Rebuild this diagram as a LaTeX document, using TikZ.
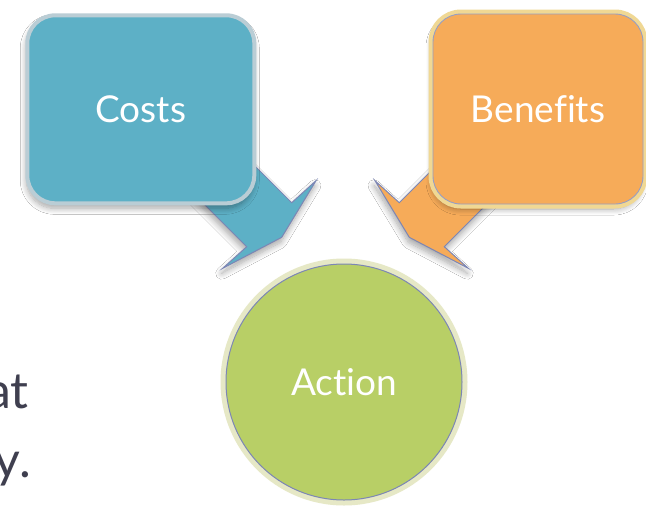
\documentclass[tikz,border=0pt]{standalone}
\usepackage{fontspec}
\setmainfont[Ligatures={NoCommon}]{Lato}
\usetikzlibrary{shadows.blur}
\definecolor{cblue}{HTML}{5DB0C6}
\definecolor{cblueborder}{HTML}{BACDD5}
\definecolor{corange}{HTML}{F6AB59}
\definecolor{corangeglow}{HTML}{F0D894}
\definecolor{cgreen}{HTML}{B8CF66}
\definecolor{cgreenglow}{HTML}{E6E8C6}
\definecolor{coutline}{HTML}{7C86B5}
\definecolor{ctext}{HTML}{3F3F4F}
\begin{document}
\begin{tikzpicture}[x=1pt,y=-1pt,
  softshadow/.style={blur shadow={shadow xshift=-1pt, shadow yshift=-5pt, shadow blur steps=10, shadow blur radius=6pt, shadow opacity=35}},
  blockarrow/.style={draw=coutline, line width=1pt, line join=miter, softshadow},
  labeltext/.style={text=white, font=\fontsize{37}{40}\selectfont},
  costbox/.style={rounded corners=28pt, fill=cblue, draw=cblueborder, line width=4pt, softshadow, labeltext},
  benefitbox/.style={rounded corners=28pt, fill=corange, draw=coutline!80, line width=0.9pt, softshadow,
     preaction={draw=corangeglow, line width=9pt}, labeltext},
  actioncircle/.style={circle, fill=cgreen, draw=coutline, line width=1pt,
     preaction={draw=cgreenglow, line width=11pt}, labeltext},
  sidetext/.style={text=ctext, font=\fontsize{50}{54}\selectfont, anchor=base east, inner sep=0pt}
]
\useasboundingbox (0,0) rectangle (646,515);
\fill[white] (0,0) rectangle (646,515);
\clip (0,0) rectangle (646,515);

% blue arrow
\coordinate (ba1) at (230,141);
\coordinate (ba2) at (291.7,202.7);
\coordinate (ba3) at (316,180.7);
\coordinate (ba4) at (281.7,237.3);
\coordinate (ba5) at (222.7,268.3);
\coordinate (ba6) at (246.7,246.7);
\coordinate (ba7) at (185,185);
\path[blockarrow, fill=cblue] (ba1) -- (ba2) -- (ba3) -- (ba4) -- (ba5) -- (ba6) -- (ba7) -- cycle;

% orange arrow
\coordinate (oa1) at (461,141);
\coordinate (oa2) at (399.3,202.7);
\coordinate (oa3) at (375,180.7);
\coordinate (oa4) at (409.3,237.3);
\coordinate (oa5) at (468.3,268.3);
\coordinate (oa6) at (444.3,246.7);
\coordinate (oa7) at (506,185);
\path[blockarrow, fill=corange] (oa1) -- (oa2) -- (oa3) -- (oa4) -- (oa5) -- (oa6) -- (oa7) -- cycle;

% boxes
\node[costbox, minimum width=227pt, minimum height=188pt] (costs) at (140.8,109.3) {Costs};
\node[benefitbox, minimum width=210pt, minimum height=190pt] (benefits) at (538,109) {Benefits};

% circle
\node[actioncircle, minimum size=236pt] (action) at (344,382) {Action};

% partial text at left
\node[sidetext] (line1) at (29,408) {at};
\node[sidetext] (line2) at (31,477) {y.};
\end{tikzpicture}
\end{document}
